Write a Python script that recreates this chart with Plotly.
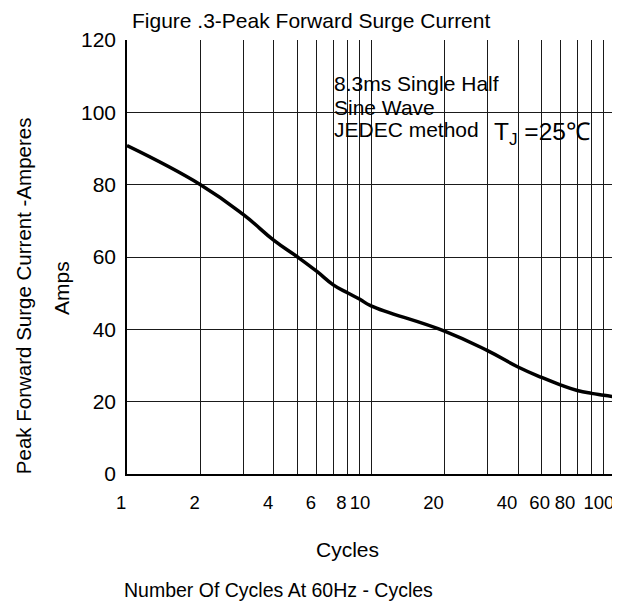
import plotly.graph_objects as go

# Data
cycles = [1, 2, 3, 4, 5, 6, 7, 8, 9, 10, 20, 30, 40, 50, 60, 70, 80, 90, 100]
amps = [90.8, 80.0, 71.7, 64.6, 60.0, 56.0, 52.3, 50.1, 48.3, 46.5,
        39.5, 34.1, 29.6, 26.7, 24.6, 23.1, 22.3, 21.8, 21.3]

x_tick_vals = [1, 2, 4, 6, 8, 10, 20, 40, 60, 80, 100]
x_tick_text = ["1", "2", "4", "6", "8", "10", "20", "40",
               "60\u00a0\u00a0", "80\u00a0\u00a0\u00a0", "100"]
x_minor_grid = [3, 5, 7, 9, 30, 50, 70, 90]
y_tick_vals = [0, 20, 40, 60, 80, 100, 120]

FONT = "Liberation Sans, Arial, sans-serif"
GRID = "#1a1a1a"

fig = go.Figure()
fig.add_trace(go.Scatter(
    x=cycles, y=amps, mode="lines",
    line=dict(color="black", width=3.5, shape="spline", smoothing=1.3),
    showlegend=False, hoverinfo="skip",
))

# page body has an 8px margin; figure is 612x593 so the page shows 620x601
fig.update_layout(
    width=612, height=593,
    margin=dict(l=119, r=0, t=32, b=127),
    paper_bgcolor="white", plot_bgcolor="white",
    font=dict(family=FONT, size=21, color="black"),
    showlegend=False,
)

fig.update_xaxes(
    type="log", range=[0, 2.02],
    tickvals=x_tick_vals, ticktext=x_tick_text, tickangle=0,
    showgrid=True, gridcolor=GRID, gridwidth=1.4,
    minor=dict(tickvals=x_minor_grid, showgrid=True, gridcolor=GRID, gridwidth=1.4),
    showline=True, linecolor="black", linewidth=1.5,
    ticks="", ticklabelstandoff=11, ticklabelposition="outside left",
    ticklabeloverflow="allow",
    tickfont=dict(size=18.5, family=FONT),
    zeroline=False, mirror=False,
)
fig.update_yaxes(
    range=[0, 120], tickvals=y_tick_vals,
    showgrid=True, gridcolor=GRID, gridwidth=1.4,
    showline=True, linecolor="black", linewidth=1.5,
    ticks="", ticklabelstandoff=5,
    tickfont=dict(size=21, family=FONT),
    zeroline=False,
)

# white box behind the condition text (covers gridlines)
fig.add_shape(type="rect", xref="paper", yref="paper",
              x0=0.367, x1=0.963, y0=0.740, y1=0.931,
              fillcolor="white", line=dict(width=0), layer="between")

ann = [
    dict(text="Figure .3-Peak Forward Surge Current", x=0.006, y=1.046,
         xanchor="left", yanchor="middle", font=dict(size=21)),
    dict(text="8.3ms Single Half", x=0.416, y=0.900, xanchor="left", yanchor="middle"),
    dict(text="Sine Wave", x=0.416, y=0.845, xanchor="left", yanchor="middle"),
    dict(text="JEDEC method", x=0.416, y=0.793, xanchor="left", yanchor="middle"),
    dict(text="T<sub>J</sub> =25℃", x=0.740, y=0.785, xanchor="left", yanchor="middle",
         font=dict(size=24.5)),
    dict(text="Cycles", x=0.448, y=-0.173, xanchor="center", yanchor="middle"),
    dict(text="Number Of Cycles At 60Hz - Cycles", x=-0.010, y=-0.267,
         xanchor="left", yanchor="middle", font=dict(size=19.5)),
    dict(text="Amps", x=-0.132, y=0.4286, xanchor="center", yanchor="middle",
         textangle=-90, font=dict(size=21)),
    dict(text="Peak Forward Surge Current -Amperes", x=-0.211, y=0.412,
         xanchor="center", yanchor="middle", textangle=-90,
         font=dict(size=20.5)),
]
for a in ann:
    a.setdefault("font", dict(size=21))
    a["font"].setdefault("family", FONT)
    a["font"].setdefault("color", "black")
    fig.add_annotation(xref="paper", yref="paper", showarrow=False, **a)

fig.write_html("out.html")
